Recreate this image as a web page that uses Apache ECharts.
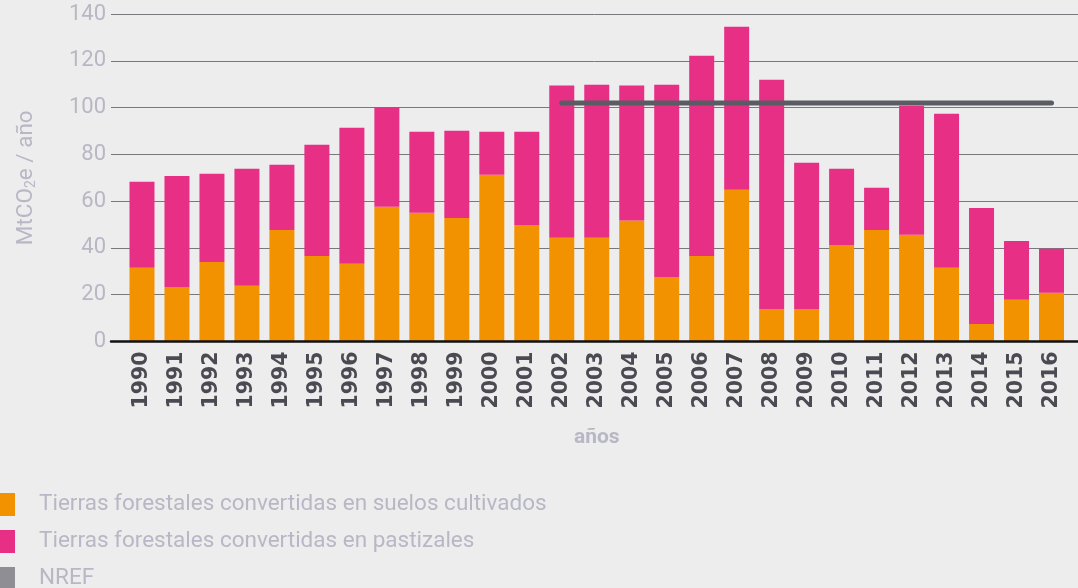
<!DOCTYPE html>
<html>
<head>
<meta charset="utf-8">
<script src="https://cdn.jsdelivr.net/npm/echarts@6/dist/echarts.min.js"></script>
<style>
    html, body { margin: 0; padding: 0; background: #ededed; }
    #chart { width: 1078px; height: 588px; }
</style>
</head>
<body>
<div id="chart"></div>
<script>
// años
const years = ['1990', '1991', '1992', '1993', '1994', '1995', '1996', '1997', '1998', '1999',
    '2000', '2001', '2002', '2003', '2004', '2005', '2006', '2007', '2008', '2009',
    '2010', '2011', '2012', '2013', '2014', '2015', '2016']
// Tierras forestales convertidas en suelos cultivados
const cultivados = [31.5, 23.3, 34.0, 23.8, 47.7, 36.6, 33.2, 57.6, 55.0, 52.8,
    71.3, 49.8, 44.3, 44.3, 51.7, 27.6, 36.6, 64.9, 13.9, 13.9,
    41.3, 47.7, 45.6, 31.5, 7.5, 17.8, 20.8]
// Tierras forestales convertidas en pastizales
const pastizales = [36.8, 47.5, 37.7, 50.0, 27.9, 47.5, 58.2, 42.5, 34.7, 37.3,
    18.4, 39.9, 65.1, 65.5, 57.7, 82.2, 85.6, 69.7, 98.0, 62.5,
    32.5, 18.0, 55.2, 65.9, 49.6, 25.2, 18.8]
// NREF (2002-2016)
const nref = [null, null, null, null, null, null, null, null, null, null,
    null, null, 102, 102, 102, 102, 102, 102, 102, 102,
    102, 102, 102, 102, 102, 102, 102]
const yTicks = { min: 0, max: 140, interval: 20 }

const myChart = echarts.init(document.getElementById('chart'))
const labelGrey = '#b8b7c5'
const option = {
    backgroundColor: '#ededed',
    animation: false,
    textStyle: { fontFamily: 'Roboto, "Noto Sans", sans-serif' },
    grid: [
        // barras
        { left: 124.5, right: 9, top: 14, bottom: 246.5 },
        // fondo: líneas de grilla y eje
        { left: 111, right: 0, top: 14, bottom: 246.5 }
    ],
    legend: {
        orient: 'vertical',
        left: 0,
        top: 493,
        height: 100,
        padding: 0,
        itemWidth: 15,
        itemHeight: 23,
        itemGap: 14,
        icon: 'rect',
        selectedMode: false,
        textStyle: {
            fontSize: 22.5,
            color: labelGrey,
            padding: [0, 0, 0, 19]
        },
        data: [
            'Tierras forestales convertidas en suelos cultivados',
            'Tierras forestales convertidas en pastizales',
            'NREF'
        ]
    },
    xAxis: [
        {
            type: 'category',
            gridIndex: 0,
            data: years,
            axisLine: { show: false },
            axisTick: { show: false },
            axisLabel: {
                rotate: 90,
                margin: 10,
                interval: 0,
                fontFamily: '"DejaVu Sans", sans-serif',
                fontWeight: 'bold',
                fontSize: 20.5,
                color: '#4b4a52'
            },
            name: 'años',
            nameLocation: 'middle',
            nameGap: 86,
            nameTextStyle: {
                fontSize: 21,
                fontWeight: 'bold',
                color: labelGrey
            }
        },
        {
            type: 'value',
            gridIndex: 1,
            min: 0,
            max: 1,
            z: 5,
            axisLine: { show: true, lineStyle: { color: '#111111', width: 2.5 } },
            axisTick: { show: false },
            axisLabel: { show: false },
            splitLine: { show: false }
        }
    ],
    yAxis: [
        {
            type: 'value',
            gridIndex: 0,
            min: yTicks.min,
            max: yTicks.max,
            interval: yTicks.interval,
            show: false
        },
        {
            type: 'value',
            gridIndex: 1,
            min: yTicks.min,
            max: yTicks.max,
            interval: yTicks.interval,
            axisLine: { show: false },
            axisTick: { show: false },
            axisLabel: { fontSize: 22, color: labelGrey, margin: 5 },
            splitLine: { lineStyle: { color: '#77777c', width: 1 } },
            name: 'MtCO{s|2}e / año',
            nameLocation: 'middle',
            nameGap: 73,
            nameTextStyle: {
                fontSize: 22.5,
                color: labelGrey,
                rich: {
                    s: { fontSize: 14, color: labelGrey, padding: [10, 0, 0, 0] }
                }
            }
        }
    ],
    series: [
        {
            name: 'Tierras forestales convertidas en suelos cultivados',
            type: 'bar',
            stack: 'total',
            barWidth: 25,
            itemStyle: { color: '#f39200' },
            data: cultivados
        },
        {
            name: 'Tierras forestales convertidas en pastizales',
            type: 'bar',
            stack: 'total',
            barWidth: 25,
            itemStyle: { color: '#e72f86' },
            data: pastizales
        },
        {
            // sólo para el cuadrado de la leyenda (y la grilla de fondo)
            name: 'NREF',
            type: 'scatter',
            xAxisIndex: 1,
            yAxisIndex: 1,
            itemStyle: { color: '#76757d' },
            data: []
        },
        {
            name: 'NREF',
            type: 'line',
            z: 4,
            showSymbol: false,
            symbol: 'none',
            itemStyle: { color: '#76757d' },
            lineStyle: { color: '#5b5c63', width: 5, cap: 'round' },
            data: nref
        }
    ]
}
myChart.setOption(option)
</script>
</body>
</html>
